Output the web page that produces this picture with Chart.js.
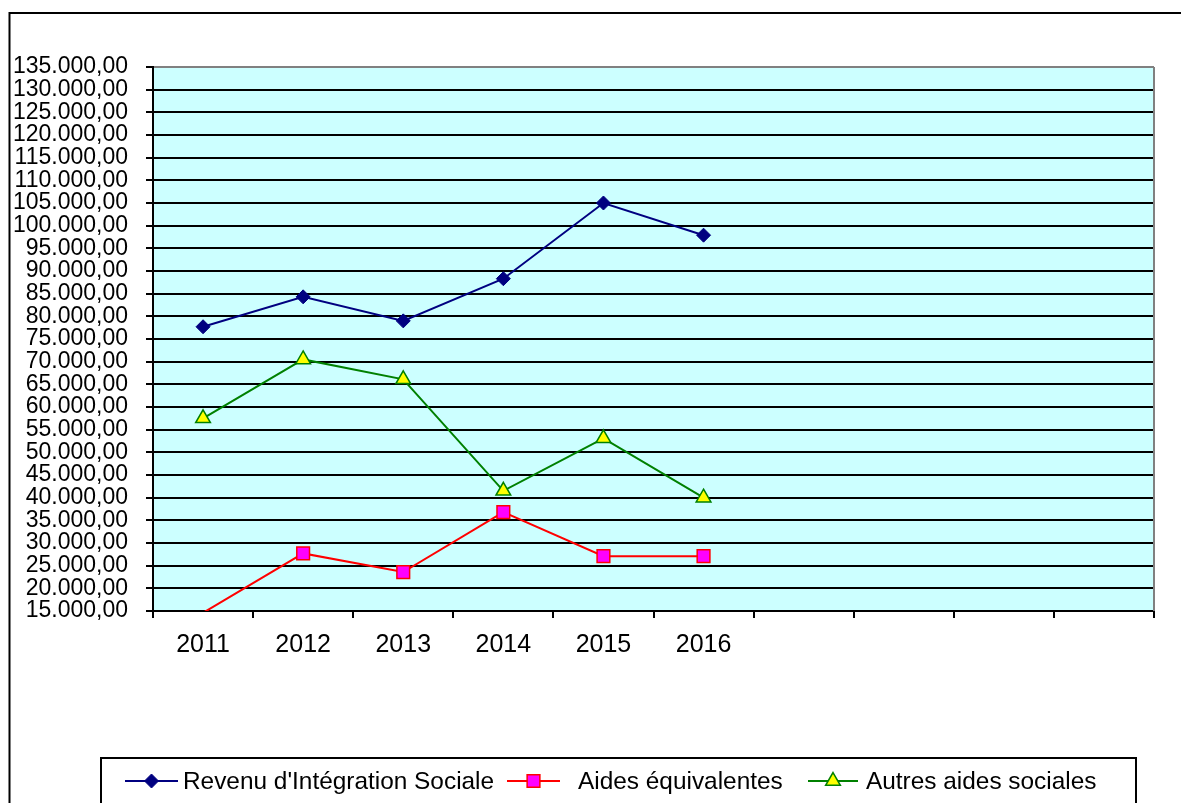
<!DOCTYPE html>
<html>
<head>
<meta charset="utf-8">
<script src="https://cdn.jsdelivr.net/npm/chart.js@4.4.1/dist/chart.umd.min.js"></script>
<style>
  html, body { margin: 0; padding: 0; background: #ffffff; }
  #c { display: block; }
</style>
</head>
<body>
<canvas id="c" width="1181" height="803"></canvas>
<script>
// ---- Data ----
const categories = ['2011', '2012', '2013', '2014', '2015', '2016', '', '', '', ''];
const revenuIntegration = [77700, 84300, 79000, 88300, 105000, 97900];
const aidesEquivalentes = [14600, 27700, 23600, 36800, 27100, 27100];
const autresAides = [57500, 70500, 66100, 41500, 53100, 40000];
const seriesNames = ["Revenu d'Intégration Sociale", 'Aides équivalentes', 'Autres aides sociales'];
const yMin = 15000, yMax = 135000, yStep = 5000;

function fmt(v) {
  return String(v).replace(/\B(?=(\d{3})+(?!\d))/g, '.') + ',00';
}

const FONT = "'Liberation Sans', Arial, sans-serif";

function radiusFn(r) {
  return (ctx) => (ctx.raw < yMin ? 0 : r);
}

const bgPlugin = {
  id: 'bgPlugin',
  beforeDraw(chart) {
    const { ctx, chartArea: a } = chart;
    ctx.save();
    ctx.fillStyle = '#CCFFFF';
    ctx.fillRect(a.left, a.top, a.right - a.left, a.bottom - a.top);
    // outer frame
    ctx.strokeStyle = '#000';
    ctx.lineWidth = 2;
    ctx.beginPath();
    ctx.moveTo(9.5, 810);
    ctx.lineTo(9.5, 13);
    ctx.lineTo(1190, 13);
    ctx.stroke();
    ctx.restore();
  },
  beforeDatasetsDraw(chart) {
    const { ctx, chartArea: a } = chart;
    ctx.save();
    ctx.strokeStyle = '#808080';
    ctx.lineWidth = 2;
    ctx.beginPath();
    ctx.moveTo(a.right, a.top);
    ctx.lineTo(a.right, a.bottom);
    ctx.stroke();
    ctx.restore();
  }
};

function drawMarker(ctx, style, r, x, y) {
  if (style === 'rectRot') {
    ctx.moveTo(x, y - r); ctx.lineTo(x + r, y); ctx.lineTo(x, y + r); ctx.lineTo(x - r, y); ctx.closePath();
  } else if (style === 'rect') {
    const s = r * Math.SQRT1_2;
    ctx.rect(x - s, y - s, 2 * s, 2 * s);
  } else if (style === 'triangle') {
    ctx.moveTo(x, y - r);
    ctx.lineTo(x + r * Math.sin(2 * Math.PI / 3), y - r * Math.cos(2 * Math.PI / 3));
    ctx.lineTo(x + r * Math.sin(4 * Math.PI / 3), y - r * Math.cos(4 * Math.PI / 3));
    ctx.closePath();
  }
}

const legendPlugin = {
  id: 'customLegend',
  afterDraw(chart) {
    const { ctx } = chart;
    ctx.save();
    ctx.strokeStyle = '#000';
    ctx.lineWidth = 2;
    ctx.strokeRect(101, 758, 1035, 60);
    const y = 781;
    const items = [
      { x0: 125, x1: 178, tx: 183 },
      { x0: 507, x1: 560, tx: 578 },
      { x0: 808, x1: 858, tx: 866 }
    ];
    chart.data.datasets.forEach((ds, i) => {
      const it = items[i];
      ctx.strokeStyle = ds.borderColor;
      ctx.lineWidth = ds.borderWidth;
      ctx.beginPath();
      ctx.moveTo(it.x0, y);
      ctx.lineTo(it.x1, y);
      ctx.stroke();
      ctx.fillStyle = ds.pointBackgroundColor;
      ctx.strokeStyle = ds.pointBorderColor;
      ctx.lineWidth = ds.pointBorderWidth;
      ctx.beginPath();
      drawMarker(ctx, ds.pointStyle, ds.legendRadius, (it.x0 + it.x1) / 2, y);
      ctx.fill();
      ctx.stroke();
      ctx.fillStyle = '#000';
      ctx.font = '24.4px ' + FONT;
      ctx.textBaseline = 'middle';
      ctx.textAlign = 'left';
      ctx.fillText(ds.label, it.tx, y + 1);
    });
    ctx.restore();
  }
};

new Chart(document.getElementById('c'), {
  type: 'line',
  data: {
    labels: categories,
    datasets: [
      {
        label: seriesNames[0],
        data: revenuIntegration,
        borderColor: '#000080',
        borderWidth: 2,
        pointStyle: 'rectRot',
        pointRadius: radiusFn(7),
        legendRadius: 7,
        pointBackgroundColor: '#000080',
        pointBorderColor: '#000080',
        pointBorderWidth: 1,
        tension: 0
      },
      {
        label: seriesNames[1],
        data: aidesEquivalentes,
        borderColor: '#FF0000',
        borderWidth: 2,
        pointStyle: 'rect',
        pointRadius: radiusFn(9),
        legendRadius: 9,
        pointBackgroundColor: '#FF00FF',
        pointBorderColor: '#FF0000',
        pointBorderWidth: 1.5,
        tension: 0
      },
      {
        label: seriesNames[2],
        data: autresAides,
        borderColor: '#008000',
        borderWidth: 2,
        pointStyle: 'triangle',
        pointRadius: radiusFn(8.5),
        legendRadius: 8.5,
        pointBackgroundColor: '#FFFF00',
        pointBorderColor: '#008000',
        pointBorderWidth: 1.5,
        tension: 0
      }
    ]
  },
  options: {
    responsive: false,
    animation: false,
    layout: { padding: { left: 0, top: 67, right: 27, bottom: 0 } },
    plugins: {
      legend: { display: false },
      tooltip: { enabled: false }
    },
    scales: {
      x: {
        offset: true,
        grid: {
          display: true,
          offset: true,
          drawOnChartArea: false,
          drawTicks: true,
          tickLength: 7,
          color: '#000',
          lineWidth: 2
        },
        border: { display: true, color: '#000', width: 2 },
        ticks: {
          color: '#000',
          font: { family: FONT, size: 25 },
          padding: 12,
          autoSkip: false,
          maxRotation: 0
        },
        afterFit(scale) { scale.height = 192; }
      },
      y: {
        min: yMin,
        max: yMax,
        grid: {
          color: (ctx) => (ctx.tick && ctx.tick.value === yMax ? '#808080' : '#000'),
          lineWidth: 2,
          drawTicks: true,
          tickLength: 7,
          tickColor: '#000'
        },
        border: { display: true, color: '#000', width: 2 },
        ticks: {
          stepSize: yStep,
          autoSkip: false,
          color: '#000',
          font: { family: FONT, size: 23 },
          padding: 18,
          callback: (v) => fmt(v)
        },
        afterFit(scale) { scale.width = 153; }
      }
    }
  },
  plugins: [bgPlugin, legendPlugin]
});
</script>
</body>
</html>
